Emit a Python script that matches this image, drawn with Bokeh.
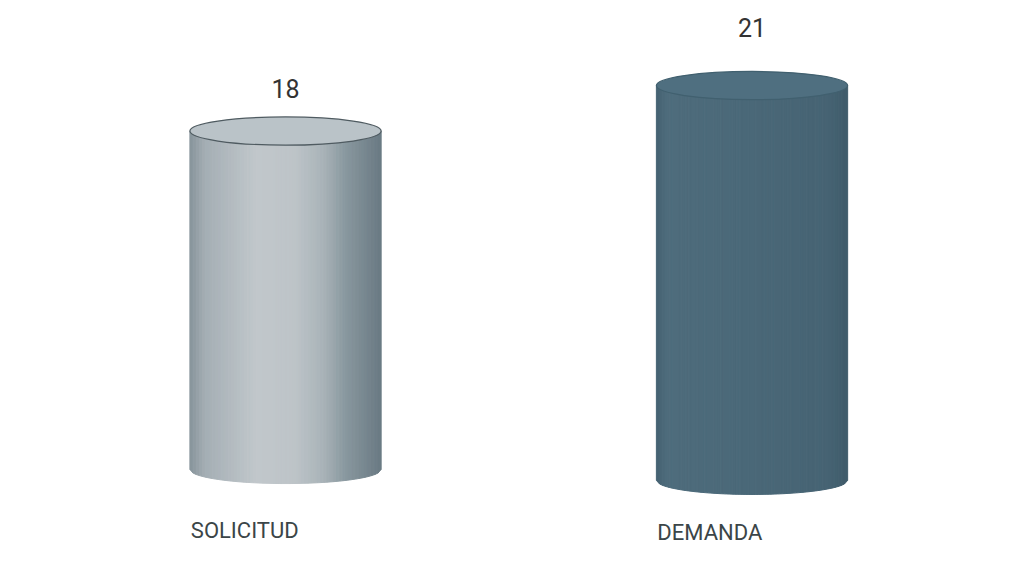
import numpy as np
from bokeh.plotting import figure
from bokeh.models import Range1d, ColumnDataSource
from bokeh.core.properties import value
from bokeh.embed import file_html
from bokeh.resources import INLINE

# ---- data ----
categories = ["SOLICITUD", "DEMANDA"]
values = [18, 21]
value_labels = ["18", "21"]

# ---- style ----
x_pos = [0.0, 1.0]
base_shift = [0.0, -0.58]          # slight perspective drop of the second cylinder
value_label_gap = [2.29, 3.08]     # gap between cap and value label (y units)
cat_label_gap = [3.25, 2.77]       # baseline of category label below base (y units)
half_w = 0.205                     # cylinder half width (x units)
ry = 0.75                          # ellipse half height (y units)

def mix(c1, c2, t):
    return tuple(int(round(a + (b - a) * t)) for a, b in zip(c1, c2))

def hexc(c):
    return "#%02x%02x%02x" % c

def interp_stops(stops, t):
    for (t0, c0), (t1, c1) in zip(stops[:-1], stops[1:]):
        if t0 <= t <= t1:
            return mix(c0, c1, (t - t0) / (t1 - t0) if t1 > t0 else 0)
    return stops[-1][1]

grad_stops = [
    [(0.0, (0x86, 0x93, 0x9a)), (0.08, (0xa4, 0xae, 0xb4)), (0.35, (0xc1, 0xc7, 0xcb)),
     (0.55, (0xbd, 0xc4, 0xc8)), (0.70, (0xa9, 0xb3, 0xb8)), (0.82, (0x88, 0x97, 0x9e)),
     (1.0, (0x6a, 0x7a, 0x83))],
    [(0.0, (0x45, 0x62, 0x72)), (0.06, (0x4e, 0x6c, 0x7c)), (0.5, (0x4a, 0x68, 0x78)),
     (0.9, (0x46, 0x63, 0x73)), (1.0, (0x3f, 0x5b, 0x6a))],
]
top_fill = ["#bac3c8", "#4f6f80"]
top_line = ["#4f5b61", "#41606f"]
label_color = "#3b4548"

W, H = 1005, 547
p = figure(width=W, height=H, output_backend="svg", toolbar_location=None,
           x_range=Range1d(-0.611, 1.5434), y_range=Range1d(-4.151, 24.945),
           min_border=0)
p.axis.visible = False
p.grid.visible = False
p.outline_line_color = None
p.background_fill_color = "white"
p.border_fill_color = "white"

n_strips = 60
for i, (xc, v) in enumerate(zip(x_pos, values)):
    b = base_shift[i]
    top = b + v
    xs_list, ys_list, cols = [], [], []
    edges = np.linspace(-half_w, half_w, n_strips + 1)
    for k in range(n_strips):
        x0, x1 = edges[k], edges[k + 1]
        y0 = b - ry * np.sqrt(max(0.0, 1 - (x0 / half_w) ** 2))
        y1 = b - ry * np.sqrt(max(0.0, 1 - (x1 / half_w) ** 2))
        xs_list.append([xc + x0, xc + x1, xc + x1, xc + x0])
        ys_list.append([y0, y1, top, top])
        t = (k + 0.5) / n_strips
        cols.append(hexc(interp_stops(grad_stops[i], t)))
    src = ColumnDataSource(dict(xs=xs_list, ys=ys_list, c=cols))
    p.patches("xs", "ys", source=src, fill_color="c", line_color="c", line_width=1.0)
    # top cap
    p.ellipse(x=[xc], y=[top], width=[2 * half_w], height=[2 * ry],
              fill_color=top_fill[i], line_color=top_line[i], line_width=1.2)

# value labels
for i, (xc, v) in enumerate(zip(x_pos, values)):
    p.text(x=[xc], y=[base_shift[i] + v + value_label_gap[i]], text=[value_labels[i]],
           text_font=value("Roboto"), text_font_size="25px", text_color="#333333",
           text_align="center", text_baseline="middle")

# category labels
for i, (xc, c) in enumerate(zip(x_pos, categories)):
    p.text(x=[xc - half_w + 0.002], y=[base_shift[i] - cat_label_gap[i]], text=[c],
           text_font=value("Roboto"), text_font_size="22px", text_color=label_color,
           text_align="left", text_baseline="alphabetic")

open("out.html", "w").write(file_html(p, INLINE))
